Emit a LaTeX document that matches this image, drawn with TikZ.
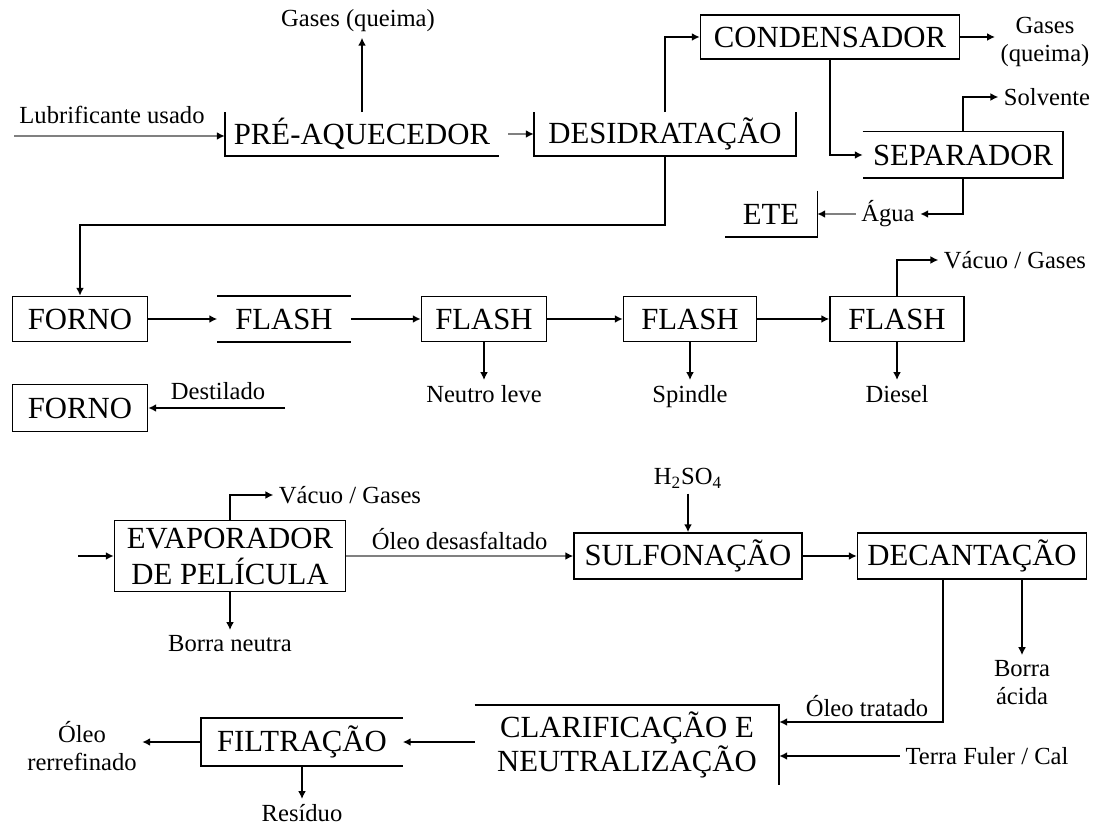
\documentclass[tikz,border=0pt]{standalone}
\usepackage{fontspec}
\setmainfont{Liberation Serif}
\usepackage{tikz}
\usetikzlibrary{arrows.meta,positioning,calc}
\tikzset{
  unit/.style    ={draw,line width=0.9pt,inner sep=0pt,align=center,font=\fontsize{17.5}{20.5}\selectfont},
  open/.style    ={unit,draw=none},
  lbl/.style     ={inner sep=3pt,align=center,text=black,font=\fontsize{14}{16}\selectfont},
  side/.style    ={line width=0.9pt},
  flow/.style    ={line width=1.1pt,-{Latex[length=4.5pt,width=4.5pt]}},
  thinflow/.style={line width=0.9pt,black!50,-{Latex[length=4.5pt,width=4.5pt,black]}},
}

\begin{document}
\begin{tikzpicture}[x=0.02cm,y=-0.02cm]
  \useasboundingbox (0,0) rectangle (1101,830);
  % row 1: pre-treatment
  \node[open,minimum width=5.46cm,minimum height=0.84cm] (pre) at (362,134) {PRÉ-AQUECEDOR};
  \node[open,minimum width=5.22cm,minimum height=0.84cm] (des) at (665,134) {DESIDRATAÇÃO};
  \node[unit,minimum width=5.18cm,minimum height=0.88cm] (cond) at (830,37) {CONDENSADOR};
  \node[open,minimum width=3.98cm,minimum height=0.9cm] (sep) at (963,155) {SEPARADOR};
  \node[open,minimum width=1.82cm,minimum height=0.9cm] (ete) at (771,214) {ETE};
  \node[lbl] (gq1) at (358,21) {Gases (queima)};
  \node[lbl] (gq2) at (1045,42) {Gases\\(queima)};
  \node[lbl] (lub) at (112,115) {Lubrificante usado};
  \node[lbl] (solv) at (1047,97) {Solvente};
  \node[lbl] (agua) at (888,214) {Água};
  \coordinate (lubin) at (14,136);
  \draw[side] (pre.north west) -- (pre.south west) -- (pre.south east);
  \draw[side] (des.north west) -- (des.south west) -- (des.south east) -- (des.north east);
  \draw[side] (sep.north west) -- (sep.north east) -- (sep.south east) -- (sep.south west);
  \draw[side] (ete.north east) -- (ete.south east) -- (ete.south west);
  \draw[thinflow] (lubin) -- (lubin -| pre.west);
  \draw[thinflow,shorten <=5pt] (pre.east) -- (des.west);
  \draw[flow] (pre.north) -- (pre.north |- gq1.south);
  \draw[flow] (des.north) |- (cond.west);
  \draw[flow] (cond.east) -- (cond.east -| gq2.west);
  \draw[flow] (cond.south) |- (sep.west);
  \draw[flow] (sep.north) |- (solv.west);
  \draw[flow] (sep.south) |- (agua.east);
  \draw[thinflow] (agua.west) -- (ete.east);

  % row 2: distillation
  \node[unit,minimum width=2.7cm,minimum height=0.9cm] (forno) at (80,319) {FORNO};
  \node[open,minimum width=2.64cm,minimum height=0.9cm] (f1) at (284,319) {FLASH};
  \foreach \i/\x/\w in {2/484/2.5,3/690/2.66,4/897/2.68}
     \node[unit,minimum width=\w cm,minimum height=0.9cm] (f\i) at (\x,319) {FLASH};
  \draw[side] (f1.north west) -- (f1.north east) (f1.south west) -- (f1.south east);
  \draw[flow] (des.south) -- (des.south |- 0,225) -| (forno.north);
  \foreach \a/\b in {forno/f1,f1/f2,f2/f3,f3/f4}
     \draw[flow] (\a) -- (\b);
  \foreach \i/\t in {2/Neutro leve,3/Spindle,4/Diesel}{
     \node[lbl,anchor=north] (p\i) at (f\i |- 0,380) {\t};
     \draw[flow] (f\i.south) -- (p\i.north);
  }
  \node[lbl] (vg1) at (1015,260) {Vácuo / Gases};
  \draw[flow] (f4.north) |- (vg1.west);
  \node[unit,minimum width=2.7cm,minimum height=0.94cm] (forno2) at (80,408) {FORNO};
  \node[lbl] (dest) at (218,391) {Destilado};
  \coordinate (destin) at (285,408);
  \draw[flow] (destin) -- (forno2.east);

  % row 3: re-refining
  \node[unit,minimum width=4.62cm,minimum height=1.42cm] (evap) at (230,556) {EVAPORADOR\\DE PELÍCULA};
  \node[unit,minimum width=4.56cm,minimum height=0.92cm] (sulf) at (688,556) {SULFONAÇÃO};
  \node[unit,minimum width=4.58cm,minimum height=0.92cm] (dec) at (972,556) {DECANTAÇÃO};
  \coordinate (evin) at (78,556);
  \draw[flow] (evin) -- (evap.west);
  \node[lbl] (vg2) at (350,495) {Vácuo / Gases};
  \draw[flow] (evap.north) |- (vg2.west);
  \node[lbl,anchor=north] (bn) at (230,630) {Borra neutra};
  \draw[flow] (evap.south) -- (bn.north);
  \draw[thinflow] (evap.east) -- node[lbl,above] (od) {Óleo desasfaltado} (sulf.west);
  \node[lbl] (h2) at (688,478) {H\textsubscript{2}SO\textsubscript{4}};
  \draw[flow] (h2.south) -- (sulf.north);
  \draw[flow] (sulf) -- (dec);
  \node[lbl] (ba) at (1022,683) {Borra\\ácida};
  \draw[flow] (ba.north |- dec.south) -- (ba.north);

  % clarification and filtration
  \node[open,minimum width=6.06cm,minimum height=1.56cm,font=\fontsize{17.5}{18}\selectfont] (clar) at (627,745) {CLARIFICAÇÃO E\\NEUTRALIZAÇÃO};
  \node[open,minimum width=4cm,minimum height=0.94cm] (filt) at (302,742) {FILTRAÇÃO};
  \draw[side] (clar.north west) -- (clar.north east) -- (clar.south east);
  \draw[side] (filt.north east) -- (filt.north west) -- (filt.south west) -- (filt.south east);
  \coordinate (ot) at (943,722);
  \draw[flow] (ot |- dec.south) -- (ot) -- (ot -| clar.east);
  \node[lbl] (otl) at (867,706) {Óleo tratado};
  \node[lbl] (tf) at (987,756) {Terra Fuler / Cal};
  \draw[flow] (tf.west) -- (tf.west -| clar.east);
  \draw[flow] (clar.west |- filt.east) -- (filt.east);
  \node[lbl] (orr) at (82,746) {Óleo\\rerrefinado};
  \draw[flow] (filt.west) -- (filt.west -| orr.east);
  \node[lbl,anchor=north] (res) at (filt.south |- 0,799) {Resíduo};
  \draw[flow] (filt.south) -- (res.north);
\end{tikzpicture}
\end{document}
